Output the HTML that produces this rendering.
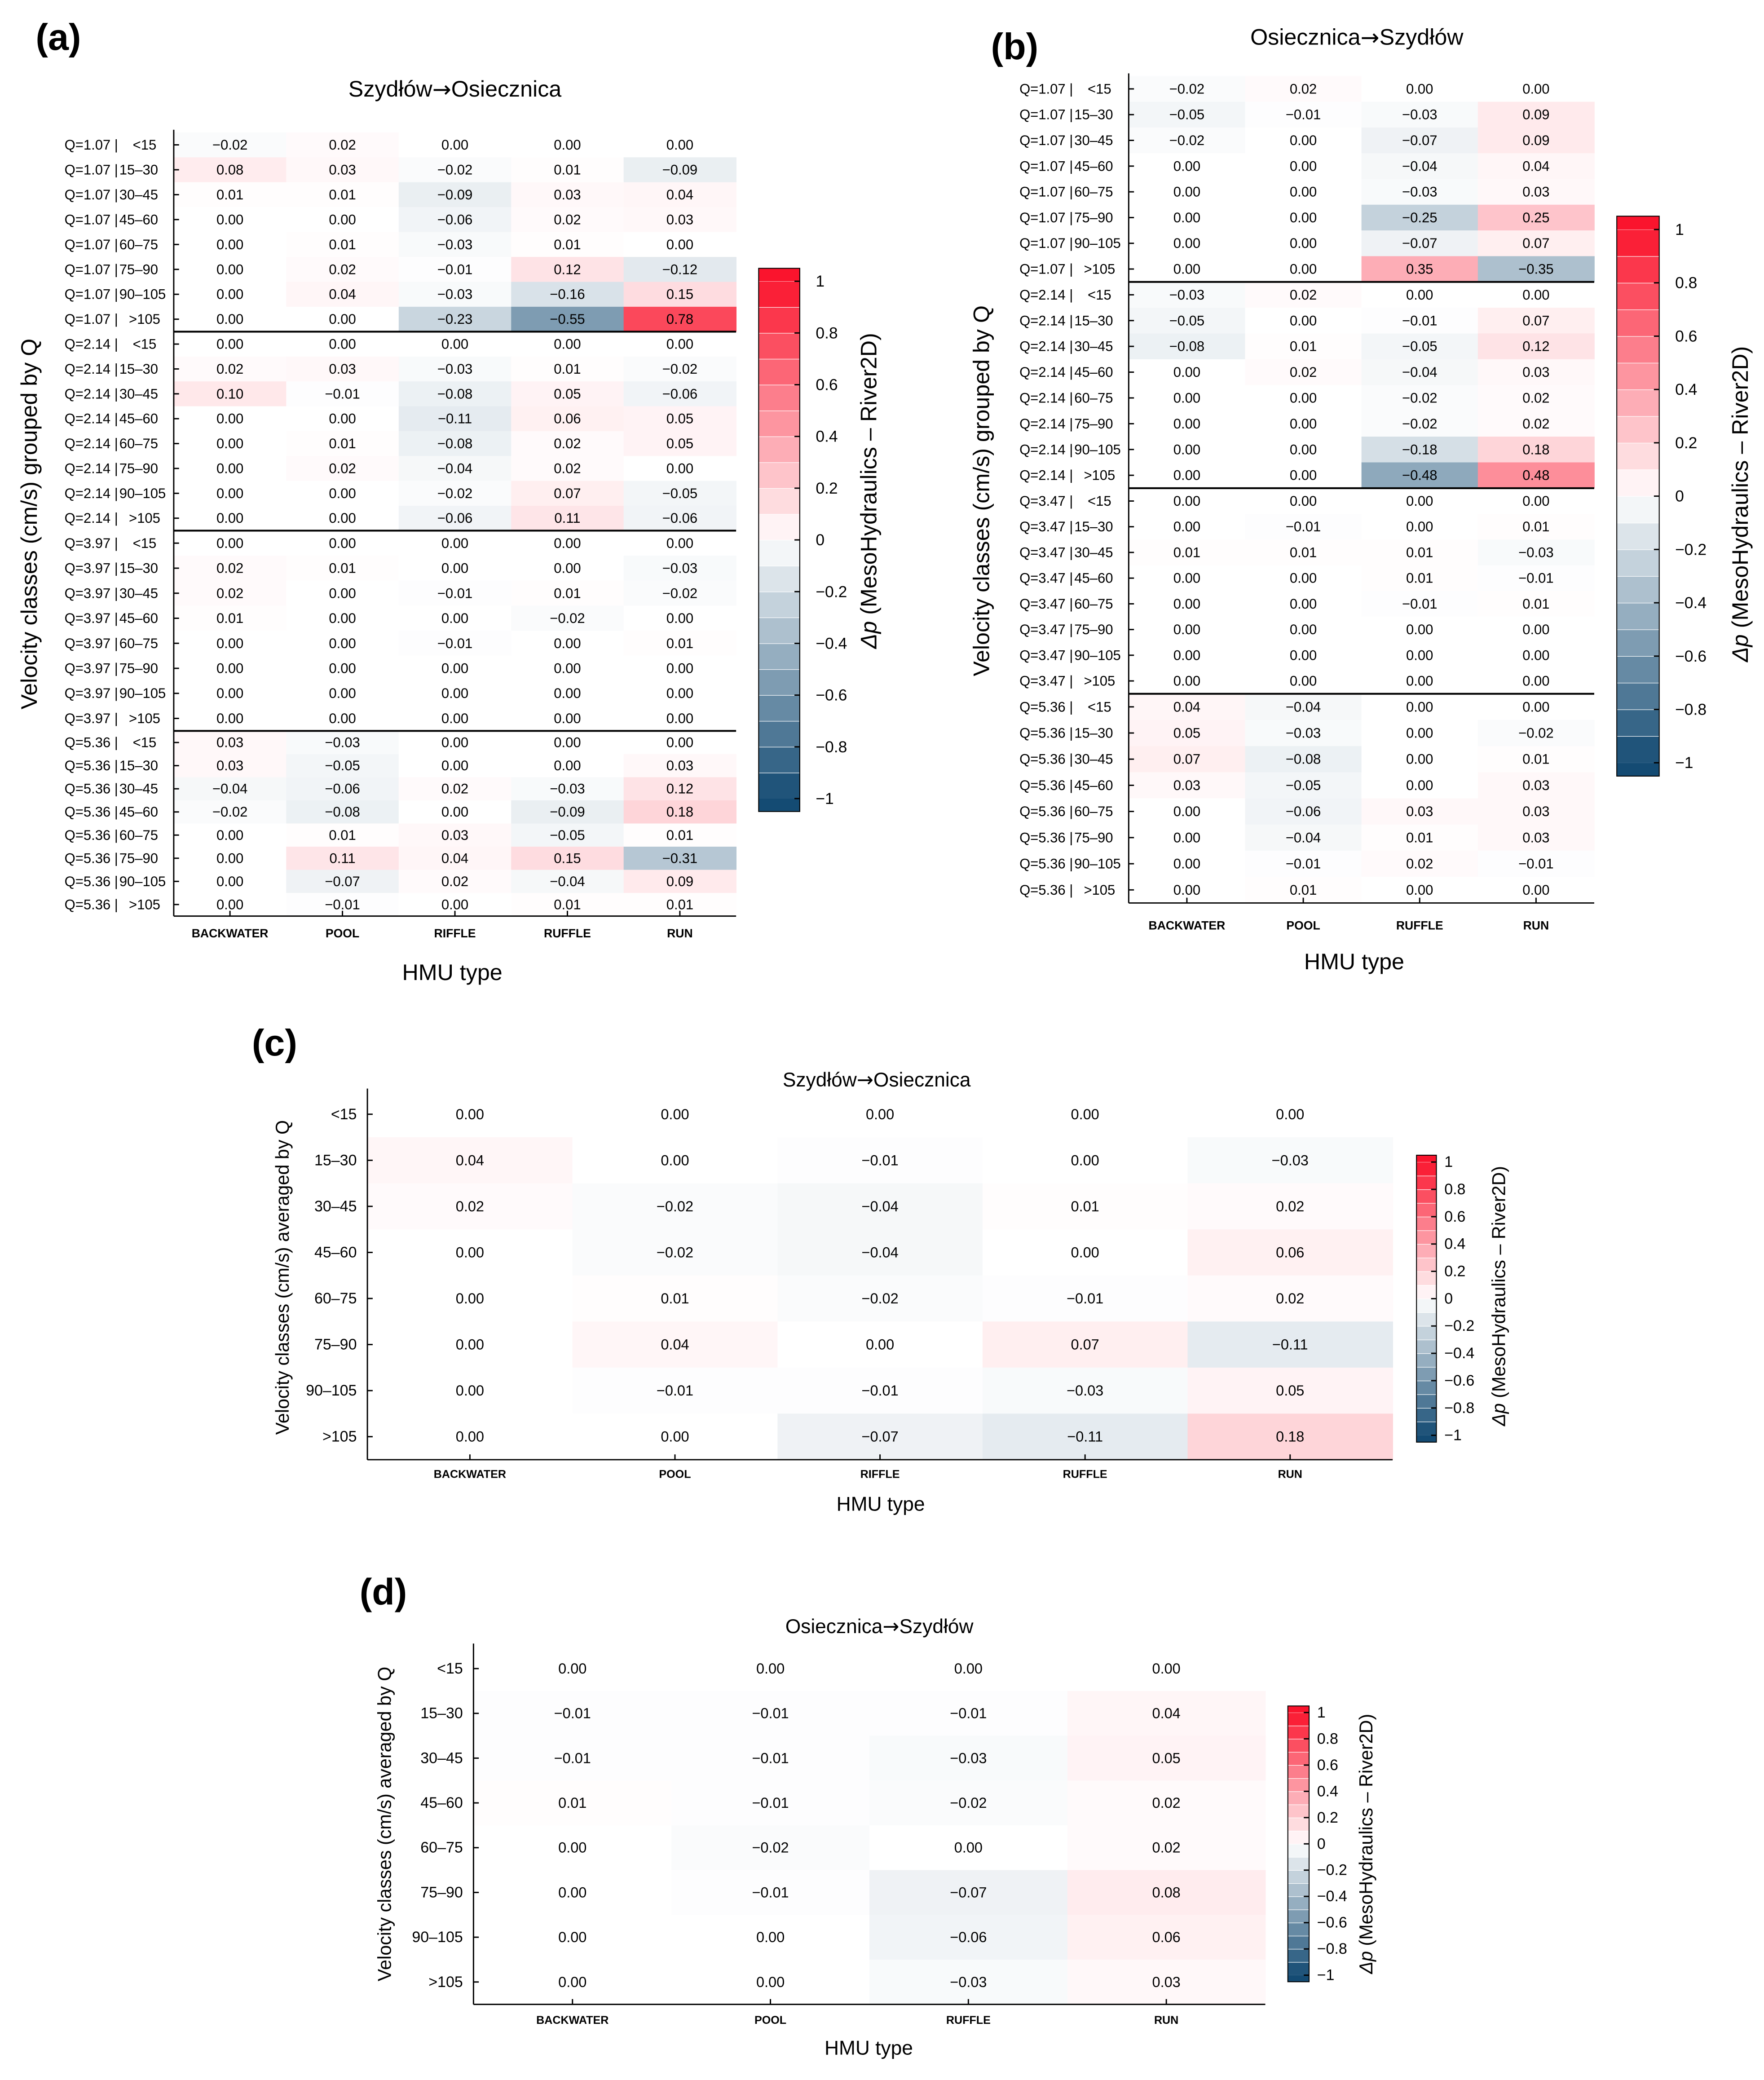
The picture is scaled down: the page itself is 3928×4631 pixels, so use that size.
<!DOCTYPE html>
<html><head><meta charset="utf-8">
<style>
html,body{margin:0;padding:0;background:#fff;}
svg{display:block;}
text{font-family:"Liberation Sans Narrow","Liberation Sans",sans-serif;fill:#000;}
.w{font-family:"Liberation Sans","DejaVu Sans",sans-serif;}
</style></head>
<body>
<svg id="fig" xmlns="http://www.w3.org/2000/svg" width="3928" height="4631" viewBox="0 0 1330 1568">
<rect x="0" y="0" width="1330" height="1568" fill="#fff"/>
</svg>
<script>
// ---------- data ----------
const velClasses = ["<15","15–30","30–45","45–60","60–75","75–90","90–105",">105"];
const aCols = ["BACKWATER","POOL","RIFFLE","RUFFLE","RUN"];
const aGroups = ["1.07","2.14","3.97","5.36"];
const aValues = [
 [-0.02,0.02,0.00,0.00,0.00],[0.08,0.03,-0.02,0.01,-0.09],[0.01,0.01,-0.09,0.03,0.04],[0.00,0.00,-0.06,0.02,0.03],
 [0.00,0.01,-0.03,0.01,0.00],[0.00,0.02,-0.01,0.12,-0.12],[0.00,0.04,-0.03,-0.16,0.15],[0.00,0.00,-0.23,-0.55,0.78],
 [0,0,0,0,0],[0.02,0.03,-0.03,0.01,-0.02],[0.10,-0.01,-0.08,0.05,-0.06],[0.00,0.00,-0.11,0.06,0.05],
 [0.00,0.01,-0.08,0.02,0.05],[0.00,0.02,-0.04,0.02,0.00],[0.00,0.00,-0.02,0.07,-0.05],[0.00,0.00,-0.06,0.11,-0.06],
 [0,0,0,0,0],[0.02,0.01,0.00,0.00,-0.03],[0.02,0.00,-0.01,0.01,-0.02],[0.01,0.00,0.00,-0.02,0.00],
 [0.00,0.00,-0.01,0.00,0.01],[0,0,0,0,0],[0,0,0,0,0],[0,0,0,0,0],
 [0.03,-0.03,0.00,0.00,0.00],[0.03,-0.05,0.00,0.00,0.03],[-0.04,-0.06,0.02,-0.03,0.12],[-0.02,-0.08,0.00,-0.09,0.18],
 [0.00,0.01,0.03,-0.05,0.01],[0.00,0.11,0.04,0.15,-0.31],[0.00,-0.07,0.02,-0.04,0.09],[0.00,-0.01,0.00,0.01,0.01]
];
const bCols = ["BACKWATER","POOL","RUFFLE","RUN"];
const bGroups = ["1.07","2.14","3.47","5.36"];
const bValues = [
 [-0.02,0.02,0.00,0.00],[-0.05,-0.01,-0.03,0.09],[-0.02,0.00,-0.07,0.09],[0,0,-0.04,0.04],
 [0,0,-0.03,0.03],[0,0,-0.25,0.25],[0,0,-0.07,0.07],[0,0,0.35,-0.35],
 [-0.03,0.02,0,0],[-0.05,0,-0.01,0.07],[-0.08,0.01,-0.05,0.12],[0,0.02,-0.04,0.03],
 [0,0,-0.02,0.02],[0,0,-0.02,0.02],[0,0,-0.18,0.18],[0,0,-0.48,0.48],
 [0,0,0,0],[0,-0.01,0,0.01],[0.01,0.01,0.01,-0.03],[0,0,0.01,-0.01],
 [0,0,-0.01,0.01],[0,0,0,0],[0,0,0,0],[0,0,0,0],
 [0.04,-0.04,0,0],[0.05,-0.03,0,-0.02],[0.07,-0.08,0,0.01],[0.03,-0.05,0,0.03],
 [0,-0.06,0.03,0.03],[0,-0.04,0.01,0.03],[0,-0.01,0.02,-0.01],[0,0.01,0,0]
];
const cCols = ["BACKWATER","POOL","RIFFLE","RUFFLE","RUN"];
const cValues = [
 [0,0,0,0,0],[0.04,0,-0.01,0,-0.03],[0.02,-0.02,-0.04,0.01,0.02],[0,-0.02,-0.04,0,0.06],
 [0,0.01,-0.02,-0.01,0.02],[0,0.04,0,0.07,-0.11],[0,-0.01,-0.01,-0.03,0.05],[0,0,-0.07,-0.11,0.18]
];
const dCols = ["BACKWATER","POOL","RUFFLE","RUN"];
const dValues = [
 [0,0,0,0],[-0.01,-0.01,-0.01,0.04],[-0.01,-0.01,-0.03,0.05],[0.01,-0.01,-0.02,0.02],
 [0,-0.02,0,0.02],[0,-0.01,-0.07,0.08],[0,0,-0.06,0.06],[0,0,-0.03,0.03]
];
const cbTicks = [1,0.8,0.6,0.4,0.2,0,-0.2,-0.4,-0.6,-0.8,-1];

// ---------- helpers ----------
const NS="http://www.w3.org/2000/svg";
const svg=document.getElementById('fig');
function mk(tag,attrs,parent){const e=document.createElementNS(NS,tag);for(const k in attrs)e.setAttribute(k,attrs[k]);(parent||svg).appendChild(e);return e;}
function txt(s,x,y,size,opts,parent){opts=opts||{};const e=mk('text',{x:x,y:y,'font-size':size,'text-anchor':opts.anchor||'middle','dominant-baseline':'central'},parent);
 if(opts.weight)e.setAttribute('font-weight',opts.weight);if(opts.cls)e.setAttribute('class',opts.cls);if(opts.rot)e.setAttribute('transform','rotate(-90 '+x+' '+y+')');e.textContent=s;return e;}
function color(v){v=Math.max(-1,Math.min(1,v));
 if(v>=0){const t=v;return 'rgb('+Math.round(255-t*5)+','+Math.round(255-t*235)+','+Math.round(255-t*210)+')';}
 const t=-v;return 'rgb('+Math.round(255-t*235)+','+Math.round(255-t*180)+','+Math.round(255-t*140)+')';}
function fmt(v){const s=Math.abs(v).toFixed(2);return (v<0&&s!=="0.00"?"−":"")+s;}
function fmtTick(v){if(v===0)return "0";const s=String(Math.abs(v));return (v<0?"−":"")+s;}

function heatmap(p){
 const g=mk('g',{});
 
 
 const nR=p.values.length,nC=p.cols.length;
 const cw=(p.x1-p.x0)/nC;
 const bounds=p.bounds||[p.y0,p.y1];
 const nG=bounds.length-1, perG=nR/nG;
 const yS=r=>{const gi=Math.min(nG-1,Math.floor(r/perG));const h=(bounds[gi+1]-bounds[gi])/perG;return bounds[gi]+(r-gi*perG)*h;};
 const rH=r=>{const gi=Math.min(nG-1,Math.floor(r/perG));return (bounds[gi+1]-bounds[gi])/perG;};
 const xS=c=>p.x0+c*cw;
 const yTop=bounds[0], yBot=bounds[nG];
 for(let r=0;r<nR;r++)for(let c=0;c<nC;c++){
  const v=p.values[r][c];
  const rc=mk('rect',{x:xS(c),y:yS(r),width:cw+0.3,height:rH(r)+0.3,fill:color(v)},g);
  
  
  const t=txt(fmt(v),xS(c)+cw/2,yS(r)+rH(r)/2,p.vfs,{},g);
  
  
 }
 mk('line',{x1:p.x0,y1:yTop-2,x2:p.x0,y2:yBot,stroke:'#000','stroke-width':1},g);
 mk('line',{x1:p.x0,y1:yBot,x2:p.x1,y2:yBot,stroke:'#000','stroke-width':1},g);
 for(let r=0;r<nR;r++){
  const y=yS(r)+rH(r)/2;
  mk('line',{x1:p.x0,y1:y,x2:p.x0+4,y2:y,stroke:'#000','stroke-width':1},g);
  if(p.qLabel){
   const t1=txt('Q='+p.qLabel(r)+' |',p.x0-p.clsW,y,p.lfs,{anchor:'end',cls:'w'},g);
   
   
   const cl=velClasses[r%8];
   const t2=txt(cl,cl==="<15"||cl===">105"?p.x0-p.clsW/2-1:p.x0-p.clsW+1,y,p.lfs,{anchor:cl==="<15"||cl===">105"?'middle':'start',cls:'w'},g);
   
   
  } else {
   const t=txt(velClasses[r],p.x0-8,y,p.lfs,{anchor:'end',cls:'w'},g);
   
   
  }
 }
 for(let c=0;c<nC;c++){
  const x=xS(c)+cw/2;
  mk('line',{x1:x,y1:yBot,x2:x,y2:yBot-4,stroke:'#000','stroke-width':1},g);
  const t=txt(p.cols[c],x,yBot+p.cly,p.cfs,{weight:'bold',cls:'w'},g);
  
  
 }
 for(let k=1;k<nG;k++){const y=bounds[k];mk('line',{x1:p.x0,y1:y,x2:p.x1,y2:y,stroke:'#000','stroke-width':1.4},g);}
}

function colorbar(p){
 const g=mk('g',{});
 
 
 const yv=v=>p.y0-v*(p.y0-p.y1);
 const h=(p.y0-p.y1);
 for(let i=0;i<20;i++){
  const lo=-1+i*0.1, hi=lo+0.1;
  mk('rect',{x:p.x,y:yv(hi),width:p.w,height:h*0.1+0.2,fill:color((lo+hi)/2),stroke:'#fff','stroke-width':0.4},g);
 }
 mk('rect',{x:p.x,y:yv(1.05),width:p.w,height:h*0.05,fill:color(1)},g);
 mk('rect',{x:p.x,y:yv(-1),width:p.w,height:h*0.05,fill:color(-1)},g);
 mk('rect',{x:p.x,y:yv(1.05),width:p.w,height:h*2.1,fill:'none',stroke:'#000','stroke-width':0.7},g);
 for(const t of cbTicks){
  const y=yv(t);
  mk('line',{x1:p.x+p.w-4,y1:y,x2:p.x+p.w,y2:y,stroke:'#000','stroke-width':1},g);
  const tx=txt(fmtTick(t),p.x+p.w+p.lx,y,p.fs,{anchor:'start'},g);
  
  
 }
 const tt=mk('text',{x:p.tx,y:p.ty,'font-size':p.tfs,'text-anchor':'middle','dominant-baseline':'central',class:'w',transform:'rotate(-90 '+p.tx+' '+p.ty+')'},g);
 
 
 const i1=mk('tspan',{'font-style':'italic'},tt);i1.textContent='Δp';
 const i2=mk('tspan',{},tt);i2.textContent=' (MesoHydraulics – River2D)';
}

function label(s,x,y,fs,name,opts){const t=txt(s,x,y,fs,Object.assign({cls:'w'},opts||{}));return t;}
function title(a,b,x,y,fs,name){
 const t=mk('text',{x:x,y:y,'font-size':fs,'text-anchor':'middle','dominant-baseline':'central',class:'w'});
 
 
 const s1=mk('tspan',{},t);s1.textContent=a;
 const s2=mk('tspan',{'font-family':'DejaVu Sans'},t);s2.textContent='→';
 const s3=mk('tspan',{},t);s3.textContent=b;
}

// ---------- panel a ----------
label('(a)',44,28,28,'panel-a-label',{weight:'bold'});
title('Szydłów','Osiecznica',343,67,17,'panel-a-title');
heatmap({name:'heatmap-a',values:aValues,cols:aCols,x0:131,x1:555,bounds:[99.8,250,400,551,690.6],vfs:10.5,lfs:10.5,cfs:9,cly:13,clsW:42,
 qLabel:r=>aGroups[Math.floor(r/8)]});
label('HMU type',341,733,17,'panel-a-x-title');
label('Velocity classes (cm/s) grouped by Q',22,395,17,'panel-a-y-title',{rot:true});
colorbar({name:'colorbar-a',x:572,w:31,y0:407,y1:212,fs:12,lx:12,tx:655,ty:370,tfs:17});

// ---------- panel b ----------
label('(b)',765,35,28,'panel-b-label',{weight:'bold'});
title('Osiecznica','Szydłów',1023,28,17,'panel-b-title');
heatmap({name:'heatmap-b',values:bValues,cols:bCols,x0:851,x1:1202,bounds:[57.3,212.5,368,523,680.7],vfs:10.5,lfs:10.5,cfs:9,cly:17,clsW:42,
 qLabel:r=>bGroups[Math.floor(r/8)]});
label('HMU type',1021,725,17,'panel-b-x-title');
label('Velocity classes (cm/s) grouped by Q',740,370,17,'panel-b-y-title',{rot:true});
colorbar({name:'colorbar-b',x:1219,w:32,y0:374,y1:173,fs:12,lx:12,tx:1312,ty:380,tfs:17});

// ---------- panel c ----------
label('(c)',207,786,28,'panel-c-label',{weight:'bold'});
title('Szydłów','Osiecznica',661,814,15,'panel-c-title');
heatmap({name:'heatmap-c',values:cValues,cols:cCols,x0:277,x1:1050,y0:822.6,y1:1100.4,vfs:11,lfs:11.5,cfs:8.5,cly:11});
label('HMU type',664,1134,15,'panel-c-x-title');
label('Velocity classes (cm/s) averaged by Q',213,963,14,'panel-c-y-title',{rot:true});
colorbar({name:'colorbar-c',x:1068,w:15,y0:979,y1:876,fs:11.5,lx:6,tx:1130,ty:977,tfs:14});

// ---------- panel d ----------
label('(d)',289,1200,28,'panel-d-label',{weight:'bold'});
title('Osiecznica','Szydłów',663,1226,15,'panel-d-title');
heatmap({name:'heatmap-d',values:dValues,cols:dCols,x0:357,x1:954,y0:1241,y1:1511,vfs:11,lfs:11.5,cfs:8.5,cly:12});
label('HMU type',655,1544,15,'panel-d-x-title');
label('Velocity classes (cm/s) averaged by Q',290,1375,14,'panel-d-y-title',{rot:true});
colorbar({name:'colorbar-d',x:971,w:16,y0:1390,y1:1291,fs:11.5,lx:6,tx:1030,ty:1390,tfs:14});
</script>
</body></html>
